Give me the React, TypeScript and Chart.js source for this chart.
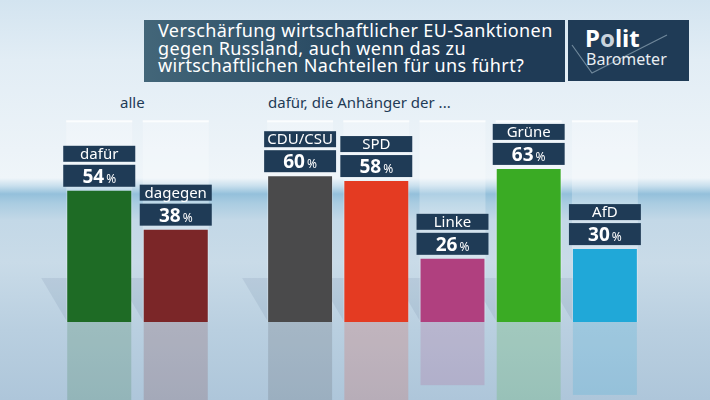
import React, { useEffect, useRef } from "react";
import { Chart, registerables } from "chart.js";

Chart.register(...registerables);

// ---------- data ----------
const allCategories = ["dafür", "dagegen"];
const allValues = [54, 38];
const allColors = ["#1e6b25", "#7b2628"];

const partyCategories = ["CDU/CSU", "SPD", "Linke", "Grüne", "AfD"];
const partyValues = [60, 58, 26, 63, 30];
const partyColors = ["#4a4a4b", "#e43b22", "#b0407f", "#3aab24", "#20a8d8"];

const titleLines = [
  "Verschärfung wirtschaftlicher EU-Sanktionen",
  "gegen Russland, auch wenn das zu",
  "wirtschaftlichen Nachteilen für uns führt?",
];
const groupLabels = ["alle", "dafür, die Anhänger der ..."];
const valueSuffix = "%";
const yMax = 100;
const trackValue = 83;

// ---------- styles ----------
const NAVY = "#1f3b56";
const FONT = "'Noto Sans', 'Open Sans', sans-serif";
const W = 710;
const H = 400;

const decoPlugin = {
  id: "deco",
  beforeDatasetsDraw(chart: any) {
    const ctx = chart.ctx;
    const meta = chart.getDatasetMeta(0);
    const ys = chart.scales.y;
    const base = ys.getPixelForValue(0);
    const trackTop = ys.getPixelForValue(trackValue);
    const colors = chart.data.datasets[0].backgroundColor;
    meta.data.forEach((bar: any, i: number) => {
      const { x, y, width } = bar.getProps(["x", "y", "width"], true);
      const left = x - width / 2;
      ctx.save();
      // perspective shadow
      ctx.fillStyle = "rgba(80,110,140,0.12)";
      ctx.beginPath();
      ctx.moveTo(left - 26, base - 44);
      ctx.lineTo(left, base - 44);
      ctx.lineTo(left, base);
      ctx.closePath();
      ctx.fill();
      // track
      ctx.fillStyle = "rgba(255,255,255,0.25)";
      ctx.fillRect(left - 1, trackTop, width + 2, base - trackTop);
      ctx.fillStyle = "rgba(255,255,255,0.75)";
      ctx.fillRect(left - 1, trackTop, width + 2, 2);
      // reflection
      ctx.globalAlpha = 0.18;
      ctx.fillStyle = colors[i];
      ctx.fillRect(left, base, width, base - y);
      ctx.restore();
    });
  },
  afterDatasetsDraw(chart: any) {
    const ctx = chart.ctx;
    const meta = chart.getDatasetMeta(0);
    const labels = chart.data.labels;
    const values = chart.data.datasets[0].data;
    meta.data.forEach((bar: any, i: number) => {
      const { x, y, width } = bar.getProps(["x", "y", "width"], true);
      const bw = width + 8;
      const bx = x - bw / 2;
      const valTop = y - 4 - 22;
      const nameTop = valTop - 3 - 16;
      ctx.save();
      ctx.fillStyle = NAVY;
      ctx.fillRect(bx, nameTop, bw, 16);
      ctx.fillRect(bx, valTop, bw, 22);
      ctx.fillStyle = "#ffffff";
      ctx.textBaseline = "alphabetic";
      ctx.textAlign = "center";
      ctx.font = `15px ${FONT}`;
      ctx.fillText(labels[i], x, nameTop + 13);
      const vs = String(values[i]);
      ctx.font = `bold 19px ${FONT}`;
      const w1 = ctx.measureText(vs).width;
      ctx.font = `12px ${FONT}`;
      const w2 = ctx.measureText(valueSuffix).width;
      const start = x - (w1 + 2 + w2) / 2;
      ctx.textAlign = "left";
      ctx.font = `bold 19px ${FONT}`;
      ctx.fillText(vs, start, valTop + 18);
      ctx.font = `12px ${FONT}`;
      ctx.fillText(valueSuffix, start + w1 + 2, valTop + 18);
      ctx.restore();
    });
  },
};

function BarChart(props: {
  labels: string[];
  values: number[];
  colors: string[];
  padLeft: number;
  padRight: number;
  barPct: number;
}) {
  const ref = useRef<HTMLCanvasElement | null>(null);
  useEffect(() => {
    if (!ref.current) return;
    const chart = new Chart(ref.current, {
      type: "bar",
      data: {
        labels: props.labels,
        datasets: [
          {
            data: props.values,
            backgroundColor: props.colors,
            borderWidth: 0,
            barPercentage: props.barPct,
            categoryPercentage: 1,
          },
        ],
      },
      options: {
        responsive: false,
        animation: false,
        events: [],
        layout: {
          padding: { left: props.padLeft, right: props.padRight, top: 79, bottom: 78 },
        },
        plugins: { legend: { display: false }, tooltip: { enabled: false } },
        scales: {
          x: { display: false, offset: true },
          y: { display: false, min: 0, max: yMax },
        },
      },
      plugins: [decoPlugin],
    } as any);
    return () => chart.destroy();
  }, []);
  return (
    <canvas
      ref={ref}
      width={W}
      height={H}
      style={{ position: "absolute", left: 0, top: 0, width: W, height: H }}
    />
  );
}

export default function App() {
  return (
    <div
      style={{
        position: "fixed",
        left: 0,
        top: 0,
        width: W,
        height: H,
        overflow: "hidden",
        fontFamily: FONT,
        background:
          "linear-gradient(180deg, #d3e4f0 0px, #e2edf5 60px, #ecf3f8 150px, #eff5f9 178px, #c8dfed 186px, #94c0db 194px, #a9cce1 203px, #c3d8e7 220px, #c9dbe8 262px, #b9cfe0 330px, #aec6da 400px)",
      }}
    >
      <div
        style={{
          position: "absolute",
          left: 144,
          top: 20,
          width: 421,
          height: 62,
          boxSizing: "border-box",
          padding: "2.3px 0 0 14px",
          background: "linear-gradient(90deg, #436679 0%, #2c4d65 40%, #1f3b56 75%)",
          color: "#ffffff",
          fontSize: 18,
          letterSpacing: "0.4px",
          lineHeight: "17.5px",
          whiteSpace: "nowrap",
        }}
      >
        {titleLines.map((l, i) => (
          <div key={i}>{l}</div>
        ))}
      </div>
      <div
        style={{
          position: "absolute",
          left: 568,
          top: 20,
          width: 121,
          height: 61,
          background: NAVY,
          color: "#ffffff",
        }}
      >
        <svg width={121} height={61} style={{ position: "absolute", left: 0, top: 0 }}>
          <polyline points="4,25 24,53 99,15" fill="none" stroke="#6f879a" strokeWidth={1.2} />
        </svg>
        <div
          style={{
            position: "absolute",
            left: 17,
            top: 6,
            fontSize: 24,
            lineHeight: "24px",
            fontWeight: 700,
            whiteSpace: "nowrap",
          }}
        >
          P<span style={{ color: "#c9d3dc" }}>o</span>lit
        </div>
        <div
          style={{
            position: "absolute",
            left: 18,
            top: 31,
            fontSize: 16,
            lineHeight: "16px",
            whiteSpace: "nowrap",
            color: "#e8edf2",
          }}
        >
          Barometer
        </div>
      </div>
      <div
        style={{
          position: "absolute",
          left: 120,
          top: 95,
          fontSize: 15,
          lineHeight: "15px",
          color: NAVY,
          whiteSpace: "nowrap",
        }}
      >
        {groupLabels[0]}
      </div>
      <div
        style={{
          position: "absolute",
          left: 268,
          top: 95,
          fontSize: 15,
          lineHeight: "15px",
          color: NAVY,
          whiteSpace: "nowrap",
        }}
      >
        {groupLabels[1]}
      </div>
      <BarChart
        labels={allCategories}
        values={allValues}
        colors={allColors}
        padLeft={61}
        padRight={496}
        barPct={0.837}
      />
      <BarChart
        labels={partyCategories}
        values={partyValues}
        colors={partyColors}
        padLeft={262}
        padRight={67}
        barPct={0.839}
      />
    </div>
  );
}
